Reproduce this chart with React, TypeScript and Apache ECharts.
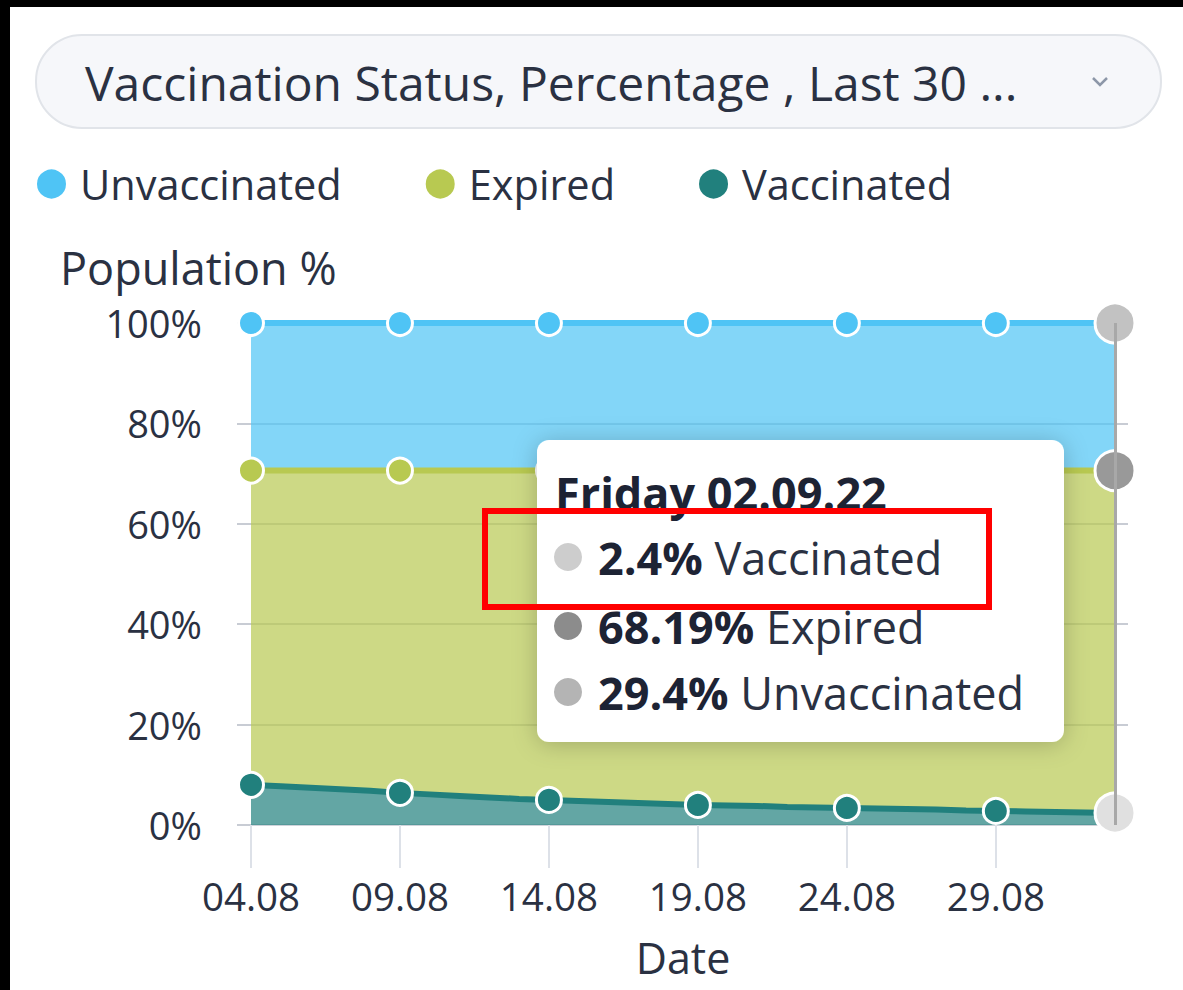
import React, { useEffect, useRef } from 'react';
import * as echarts from 'echarts';

const dates = [
  '04.08', '05.08', '06.08', '07.08', '08.08', '09.08', '10.08', '11.08', '12.08', '13.08',
  '14.08', '15.08', '16.08', '17.08', '18.08', '19.08', '20.08', '21.08', '22.08', '23.08',
  '24.08', '25.08', '26.08', '27.08', '28.08', '29.08', '30.08', '31.08', '01.09', '02.09',
];
const vaccinated = [
  8.0, 7.7, 7.4, 7.1, 6.8, 6.4, 6.1, 5.8, 5.5, 5.2,
  5.0, 4.8, 4.6, 4.4, 4.2, 4.0, 3.9, 3.8, 3.6, 3.5,
  3.4, 3.3, 3.2, 3.1, 2.9, 2.8, 2.7, 2.6, 2.5, 2.4,
];
const expired = [
  62.6, 62.9, 63.2, 63.5, 63.8, 64.2, 64.5, 64.8, 65.1, 65.4,
  65.6, 65.8, 66.0, 66.2, 66.4, 66.6, 66.7, 66.8, 67.0, 67.1,
  67.2, 67.3, 67.4, 67.5, 67.7, 67.8, 67.9, 68.0, 68.1, 68.19,
];
const unvaccinated = [
  29.4, 29.4, 29.4, 29.4, 29.4, 29.4, 29.4, 29.4, 29.4, 29.4,
  29.4, 29.4, 29.4, 29.4, 29.4, 29.4, 29.4, 29.4, 29.4, 29.4,
  29.4, 29.4, 29.4, 29.4, 29.4, 29.4, 29.4, 29.4, 29.4, 29.4,
];
const legendOrder = ['Unvaccinated', 'Expired', 'Vaccinated'];
const titleText = 'Vaccination Status, Percentage , Last 30 ...';
const tooltipDate = 'Friday 02.09.22';
const yAxisName = 'Population %';
const xAxisName = 'Date';

const FONT = "'Open Sans', 'Noto Sans', sans-serif";
const TEXT = '#2a3142';
const COLORS: Record<string, string> = {
  Unvaccinated: '#4fc4f5',
  Expired: '#b8c951',
  Vaccinated: '#21807d',
};
const HOVER: Record<string, string> = {
  Unvaccinated: '#c2c2c2',
  Expired: '#999999',
  Vaccinated: '#e0e0e0',
};
const TIP_DOT: Record<string, string> = {
  Vaccinated: '#cdcdcd',
  Expired: '#8c8c8c',
  Unvaccinated: '#b4b4b4',
};

function makeSeries(name: string, values: number[], z: number, extra: any = {}) {
  const last = values.length - 1;
  return {
    name,
    type: 'line',
    stack: 'total',
    z,
    data: values.map((v, i) =>
      i === last
        ? { value: v, symbolSize: 40, itemStyle: { color: HOVER[name], borderColor: '#fff', borderWidth: 3 } }
        : v
    ),
    symbol: 'circle',
    symbolSize: (_v: any, p: any) => (p.dataIndex % 5 === 0 ? 25 : 0),
    showSymbol: true,
    showAllSymbol: true,
    lineStyle: { color: COLORS[name], width: 6 },
    itemStyle: { color: COLORS[name], borderColor: '#ffffff', borderWidth: 3 },
    areaStyle: { color: COLORS[name], opacity: 0.7 },
    emphasis: { disabled: true },
    ...extra,
  };
}

export default function App() {
  const ref = useRef<HTMLDivElement>(null);

  useEffect(() => {
    if (!ref.current) return;
    const chart = echarts.init(ref.current, null, { renderer: 'svg' });
    const last = dates.length - 1;
    const rowStyle = (value: number, label: string, y: number) => ({
      type: 'text',
      z: 60,
      style: {
        x: 598,
        y,
        text: `{v|${value}%}{l| ${label}}`,
        verticalAlign: 'middle',
        rich: {
          v: { fontFamily: FONT, fontSize: 45, fontWeight: 'bold', fill: '#1d2334' },
          l: { fontFamily: FONT, fontSize: 45, fill: TEXT },
        },
      },
    });
    const dot = (name: string, y: number) => ({
      type: 'circle',
      z: 60,
      shape: { cx: 568, cy: y, r: 14 },
      style: { fill: TIP_DOT[name] },
    });

    chart.setOption({
      animation: false,
      backgroundColor: '#ffffff',
      title: {
        text: titleText,
        left: 85,
        top: 56,
        padding: 0,
        z: 10,
        textStyle: { fontFamily: FONT, fontSize: 48, fontWeight: 'normal', color: TEXT, lineHeight: 52 },
      },
      legend: {
        data: legendOrder,
        left: 35,
        top: 163,
        padding: 0,
        icon: 'circle',
        itemWidth: 31,
        itemHeight: 31,
        itemGap: 82,
        selectedMode: false,
        textStyle: { fontFamily: FONT, fontSize: 41.5, color: TEXT, padding: [0, 0, 0, 8] },
      },
      grid: { left: 251, right: 68, top: 323, height: 502, containLabel: false, outerBoundsMode: 'none' },
      xAxis: {
        type: 'category',
        data: dates,
        boundaryGap: false,
        name: xAxisName,
        nameLocation: 'middle',
        nameGap: 111,
        nameTextStyle: { fontFamily: FONT, fontSize: 43, color: TEXT, lineHeight: 42 },
        axisLine: { show: true, lineStyle: { color: '#cfd3da', width: 2 } },
        axisTick: { show: true, interval: 4, length: 43, lineStyle: { color: '#dde1e8', width: 2 } },
        axisLabel: { interval: 4, margin: 51, fontFamily: FONT, fontSize: 38.5, color: TEXT },
        splitLine: { show: false },
      },
      yAxis: [
        {
          type: 'value',
          min: 0,
          max: 100,
          interval: 20,
          axisLine: { show: false },
          axisTick: { show: true, length: 14, lineStyle: { color: '#c8ccd4', width: 2 } },
          axisLabel: { margin: 49, fontFamily: FONT, fontSize: 38, color: TEXT, formatter: '{value}%' },
          splitLine: { show: true, lineStyle: { color: '#c8ccd4', width: 2 } },
        },
        {
          type: 'value',
          position: 'right',
          min: 0,
          max: 100,
          interval: 20,
          axisLine: { show: false },
          axisTick: { show: true, length: 13, lineStyle: { color: '#c8ccd4', width: 2 } },
          axisLabel: { show: false },
          splitLine: { show: false },
        },
      ],
      series: [
        makeSeries('Vaccinated', vaccinated, 5, {
          markLine: {
            silent: true,
            symbol: 'none',
            z: 8,
            label: { show: false },
            lineStyle: { color: '#a8a8a8', width: 3, type: 'solid' },
            data: [{ xAxis: dates[last] }],
          },
        }),
        makeSeries('Expired', expired, 4),
        makeSeries('Unvaccinated', unvaccinated, 3),
      ],
      graphic: [
        { type: 'rect', z: 0, shape: { x: 0, y: 0, width: 1183, height: 7 }, style: { fill: '#000' } },
        { type: 'rect', z: 0, shape: { x: 0, y: 0, width: 10, height: 990 }, style: { fill: '#000' } },
        {
          type: 'rect',
          z: 1,
          shape: { x: 36, y: 35, width: 1125, height: 93, r: 46 },
          style: { fill: '#f6f7fa', stroke: '#e1e4e9', lineWidth: 2 },
        },
        {
          type: 'polyline',
          z: 12,
          shape: { points: [[1093, 78], [1100, 85], [1107, 78]] },
          style: { stroke: '#8d97a8', lineWidth: 2.5, fill: 'none' },
        },
        {
          type: 'text',
          z: 12,
          style: { x: 60, y: 267, text: yAxisName, verticalAlign: 'middle', fontFamily: FONT, fontSize: 45, fill: TEXT },
        },
        {
          type: 'rect',
          z: 50,
          shape: { x: 537, y: 440, width: 527, height: 302, r: 12 },
          style: { fill: '#ffffff', shadowBlur: 24, shadowColor: 'rgba(0,0,0,0.22)', shadowOffsetY: 2 },
        },
        {
          type: 'text',
          z: 60,
          style: {
            x: 555,
            y: 492,
            text: tooltipDate,
            verticalAlign: 'middle',
            fontFamily: FONT,
            fontSize: 45,
            fontWeight: 'bold',
            fill: '#1d2334',
          },
        },
        dot('Vaccinated', 557),
        rowStyle(vaccinated[last], 'Vaccinated', 557),
        dot('Expired', 626),
        rowStyle(expired[last], 'Expired', 626),
        dot('Unvaccinated', 692),
        rowStyle(unvaccinated[last], 'Unvaccinated', 692),
        {
          type: 'rect',
          z: 70,
          shape: { x: 485, y: 511, width: 504, height: 96 },
          style: { fill: 'none', stroke: '#ff0000', lineWidth: 6 },
        },
      ],
    });

    return () => chart.dispose();
  }, []);

  return (
    <div
      ref={ref}
      style={{ position: 'fixed', left: 0, top: 0, width: 1183, height: 990, background: '#fff' }}
    />
  );
}
